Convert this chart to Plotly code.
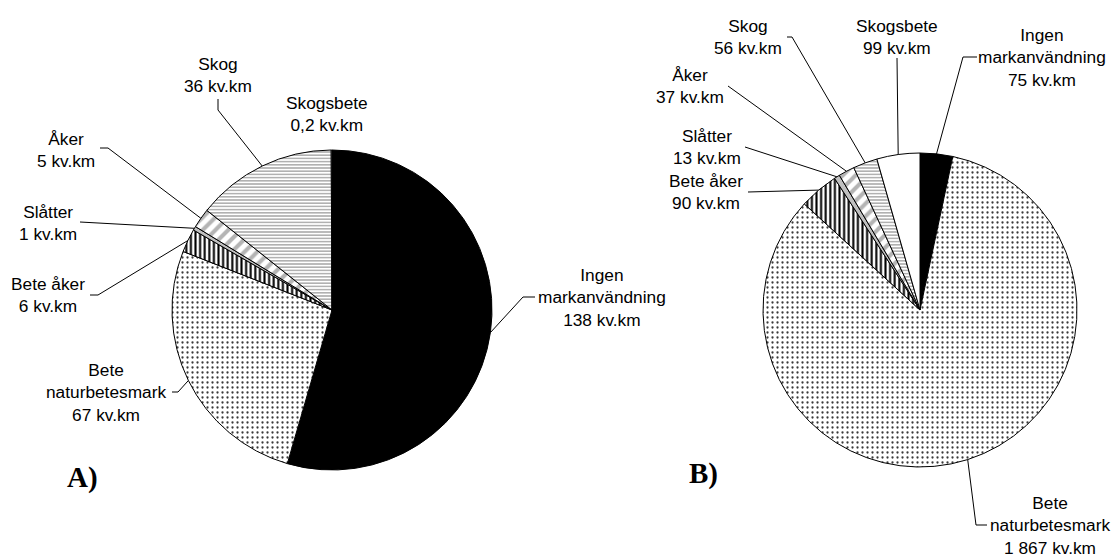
import math
import plotly.graph_objects as go

W, H = 1115, 557

# ---------------- data ----------------
categories = ["Ingen markanvändning", "Bete naturbetesmark", "Bete åker",
              "Slåtter", "Åker", "Skog", "Skogsbete"]
label_names = ["Ingen<br>markanvändning", "Bete<br>naturbetesmark", "Bete åker",
               "Slåtter", "Åker", "Skog", "Skogsbete"]
values_a = [138, 67, 6, 1, 5, 36, 0.2]
values_b = [75, 1867, 90, 13, 37, 56, 99]
unit = "kv.km"
panel_titles = ["A)", "B)"]

# ---------------- styling ----------------
slice_colors = ["black", "white", "white", "#c0c0c0", "white", "white", "white"]
pat_shape = ["", ".", "|", "", "/", "-", ""]
pat_fg = ["black", "#3a3a3a", "black", "#c0c0c0", "#b4b4b4", "#a8a8a8", "white"]
pat_bg = ["black", "white", "white", "#c0c0c0", "white", "white", "white"]
pat_size = [8, 5, 4.6, 8, 9, 3.2, 8]
pat_sol = [0.3, 0.16, 0.45, 0.3, 0.45, 0.45, 0.3]

FONT = "Liberation Sans, Arial, sans-serif"
FS = 17.3

# pie geometry in pixels (center x, center y, radius)
pies = [dict(cx=332, cy=310, r=160), dict(cx=920, cy=310, r=157)]

# label layout per pie: text centre, then leader start points (before edge point)
label_layout = [
    [  # A
        dict(t=(602, 297), lead=[(535, 297), (523, 297)]),
        dict(t=(106, 392), lead=[(172, 392), (178, 392)]),
        dict(t=(48, 295), lead=[(90, 295), (98, 295)]),
        dict(t=(48, 223), lead=[(80, 222)]),
        dict(t=(66, 150), lead=[(100, 148), (108, 148)]),
        dict(t=(218, 75), lead=[(218, 99), (218, 110)]),
        dict(t=(327, 114), lead=None),
    ],
    [  # B
        dict(t=(1042, 57), lead=[(977, 57), (963, 57)]),
        dict(t=(1050, 525), lead=[(987, 525), (976, 525)]),
        dict(t=(706, 192), lead=[(748, 192)]),
        dict(t=(707, 147), lead=[(745, 147)]),
        dict(t=(690, 86), lead=[(728, 86)]),
        dict(t=(748, 37), lead=[(787, 37), (792, 37)]),
        dict(t=(897, 37), lead=[(897, 58)]),
    ],
]
title_pos = [(82, 477), (703, 473)]


def fmt(v):
    if float(v).is_integer():
        s = f"{int(v):,}".replace(",", " ")
    else:
        s = f"{v}".replace(".", ",")
    return f"{s} {unit}"


fig = go.Figure()
shapes = []
annotations = []

for k, vals in enumerate([values_a, values_b]):
    g = pies[k]
    cx, cy, r = g["cx"], g["cy"], g["r"]
    dom = dict(x=[(cx - r) / W, (cx + r) / W], y=[1 - (cy + r) / H, 1 - (cy - r) / H])
    fig.add_trace(go.Pie(
        labels=categories, values=vals, sort=False, direction="clockwise",
        rotation=0, domain=dom, textinfo="none", hoverinfo="label+value",
        showlegend=False,
        marker=dict(colors=slice_colors, line=dict(color="black", width=1),
                    pattern=dict(shape=pat_shape, fgcolor=pat_fg, bgcolor=pat_bg,
                                 size=pat_size, solidity=pat_sol, fillmode="replace")),
    ))
    total = sum(vals)
    cum = 0.0
    for i, v in enumerate(vals):
        mid = (cum + v / 2) / total * 2 * math.pi
        cum += v
        ex = cx + r * math.sin(mid)
        ey = cy - r * math.cos(mid)
        lay = label_layout[k][i]
        tx, ty = lay["t"]
        annotations.append(dict(
            x=tx, y=ty, xref="x", yref="y", text=f"{label_names[i]}<br>{fmt(v)}",
            showarrow=False, xanchor="center", yanchor="middle", align="center",
            font=dict(family=FONT, size=FS, color="black")))
        if lay["lead"]:
            pts = lay["lead"] + [(ex, ey)]
            path = "M " + " L ".join(f"{px:.1f},{py:.1f}" for px, py in pts)
            shapes.append(dict(type="path", path=path, xref="x", yref="y",
                               line=dict(color="black", width=1)))
    px_, py_ = title_pos[k]
    annotations.append(dict(
        x=px_, y=py_, xref="x", yref="y", text=f"<b>{panel_titles[k]}</b>",
        showarrow=False, xanchor="center", yanchor="middle",
        font=dict(family="Liberation Serif, Times New Roman, serif", size=29, color="black")))

fig.update_layout(
    width=W, height=H, margin=dict(l=0, r=0, t=0, b=0),
    paper_bgcolor="white", plot_bgcolor="rgba(0,0,0,0)",
    xaxis=dict(range=[0, W], visible=False, domain=[0, 1], fixedrange=True),
    yaxis=dict(range=[H, 0], visible=False, domain=[0, 1], fixedrange=True),
    shapes=shapes, annotations=annotations,
)

fig.write_html("out.html", config={"displayModeBar": False},
               post_script="document.body.style.margin='0';document.body.style.padding='0';")
